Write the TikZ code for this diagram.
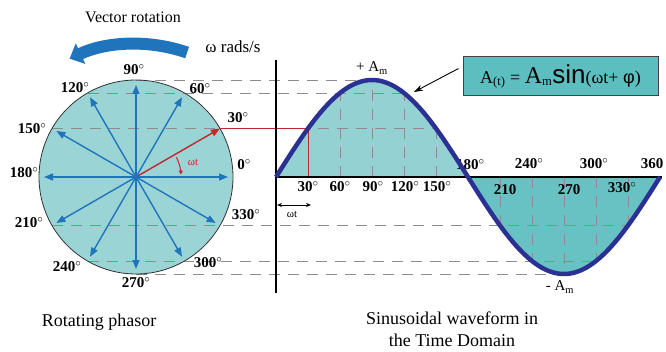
\documentclass[tikz,border=0pt]{standalone}
\usepackage{fontspec}
\setmainfont{Liberation Serif}
\newfontfamily\sansf{Liberation Sans}
\usetikzlibrary{arrows.meta,calc}
\definecolor{discfill}{HTML}{9BD4D4}
\definecolor{posfill}{HTML}{93D1D2}
\definecolor{negfill}{HTML}{68C2C3}
\definecolor{boxfill}{HTML}{5DBEBF}
\definecolor{wavecol}{HTML}{2A3192}
\definecolor{phasorcol}{HTML}{1F74BC}
\definecolor{redcol}{HTML}{C1272D}
\definecolor{gridcol}{HTML}{8C8C8C}

\begin{document}
\begin{tikzpicture}[x=1pt,y=1pt,
  phasor/.style={phasorcol,line width=1.4pt,-{Triangle[length=9pt,width=7pt]}},
  guide/.style={gridcol,line width=0.8pt,dash pattern=on 11pt off 8pt},
  deg/.style={font=\fontsize{15}{17}\selectfont\bfseries,inner sep=1pt},
  txt/.style={font=\fontsize{18}{22}\selectfont},
  small/.style={font=\fontsize{11}{12}\selectfont,inner sep=1pt},
  wave/.style={wavecol,line width=4.5pt,line join=round}]
\useasboundingbox (0,0) rectangle (666,351);
\coordinate (ctr) at (136,174);
\foreach \a in {0,30,...,360} {
  \coordinate (p\a) at ($(ctr)+(\a:97)$);
  \coordinate (h\a) at ($(ctr)+(\a:92)$);
  \coordinate (w\a) at ({276+\a/15*16},{174+97*sin(\a)});
  \coordinate (t\a) at ({276+\a/15*16},174);
}
% fills
\fill[discfill] (ctr) circle[radius=97];
\fill[posfill] (t0) -- plot[domain=0:180,samples=61] ({276+\x/15*16},{174+97*sin(\x)}) -- cycle;
\fill[negfill] (t180) -- plot[domain=180:360,samples=61] ({276+\x/15*16},{174+97*sin(\x)}) -- cycle;
% projection guides
\draw[guide] (p90) -- (w90);
\draw[guide] (p120) -- (w120);
\draw[guide] (p150) -- (w150);
\draw[guide] (p210) -- (w330);
\draw[guide] (p240) -- (w300);
\draw[guide] (p270) -- (w270);
\foreach \a in {60,90,120,150,210,240,270,300,330}
  \draw[guide] (t\a) -- (w\a);
\draw[black!80,line width=0.8pt] (ctr) circle[radius=97];
% phasors
\foreach \a in {0,60,90,120,150,180,210,240,270,300,330}
  \draw[phasor] (ctr) -- (h\a);
\draw[phasor,redcol] (ctr) -- (p30);
\fill[phasorcol] (ctr) circle[radius=2.5];
\coordinate (arcstart) at ($(ctr)+(26:45)$);
\draw[redcol,line width=1pt,-{Triangle[length=4pt,width=4pt]}] (arcstart) arc[start angle=26,end angle=3,radius=45];
\node[small,redcol] (wtarc) at (193,189) {ωt};
\draw[redcol,line width=0.8pt] (p30) -- (w30) -- (t30);
% axes
\coordinate (ytop) at (276,291);
\coordinate (ybot) at (276,58);
\coordinate (xend) at (662,174);
\draw[line width=1.2pt] (ytop) -- (ybot);
\draw[line width=1.2pt] (t0) -- (xend);
\node[deg,anchor=west] (g180) at (455,186) {180$^{\circ}$};
\draw[wave] plot[domain=0:360,samples=121] ({276+\x/15*16},{174+97*sin(\x)});
% rotation arrow
\coordinate (rotstart) at ($(136,150)+(71:157)$);
\draw[phasorcol,line width=12pt,-{Triangle[length=12pt,width=22pt]}] (rotstart) arc[start angle=71,end angle=115,radius=157];
% circle labels
\foreach \txt/\px/\py in {0/244/186,30/238/233,60/200/262,90/134/281,120/75/263,150/32/222,
  180/24/178,210/29/128,240/67/84,270/136/68,300/208/88,330/246/136}
  \node[deg] (c\txt) at (\px,\py) {\txt$^{\circ}$};
% wave labels
\foreach \txt/\px/\py in {30/308/164,60/340/164,90/373/164,120/405/164,150/437/164,
  240/529/187,300/594/187,330/622/163}
  \node[deg] (g\txt) at (\px,\py) {\txt$^{\circ}$};
\foreach \txt/\px/\py in {210/505/161,270/569/161,360/652/187}
  \node[deg] (g\txt) at (\px,\py) {\txt};
\node[font=\fontsize{15}{17}\selectfont] (amax) at (372,283) {+ A\textsubscript{m}};
\node[font=\fontsize{15}{17}\selectfont] (amin) at (560,64) {- A\textsubscript{m}};
\coordinate (wtl) at (277,146);
\coordinate (wtr) at (311,146);
\draw[{Stealth[length=5pt,width=4pt]}-{Stealth[length=5pt,width=4pt]},line width=0.8pt] (wtl) -- (wtr);
\node[small] (wtlbl) at (292,137) {ωt};
% formula
\node[draw=black!75,fill=boxfill,line width=1pt,minimum width=195pt,minimum height=39pt,inner sep=0pt] (formula) at (560.5,274.5)
  {{\fontsize{18}{20}\selectfont A\textsubscript{(t)} = }{\fontsize{24}{26}\selectfont A}{\fontsize{18}{20}\selectfont\textsubscript{m}}{\sansf\fontsize{26}{28}\selectfont sin}{\fontsize{18}{20}\selectfont(ωt+ {\sansf φ})}};
\coordinate (tipA) at (414,259);
\draw[-{Stealth[length=9pt,width=6pt]},line width=0.9pt] ([xshift=-4pt,yshift=8pt]formula.west) -- (tipA);
% titles
\node[font=\fontsize{16}{18}\selectfont] (rottitle) at (133,334) {Vector rotation};
\node[font=\fontsize{17}{19}\selectfont] (speed) at (233,304) {ω rads/s};
\node[txt] (phasortitle) at (99,29) {Rotating phasor};
\node[txt,align=center] (wavetitle) at (452,22) {Sinusoidal waveform in\\the Time Domain};
\end{tikzpicture}
\end{document}
